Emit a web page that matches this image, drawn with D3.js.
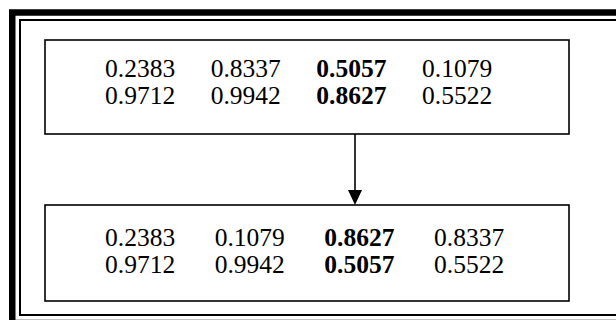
<!DOCTYPE html>
<html>
<head>
<meta charset="utf-8">
<script src="https://cdn.jsdelivr.net/npm/d3@7"></script>
<style>
html,body{margin:0;padding:0;background:#fff;}
svg{display:block;}
</style>
</head>
<body>
<svg id="chart" width="616" height="320"></svg>
<script>
// Data
const beforeRow1 = ["0.2383", "0.8337", "0.5057", "0.1079"];
const beforeRow2 = ["0.9712", "0.9942", "0.8627", "0.5522"];
const afterRow1  = ["0.2383", "0.1079", "0.8627", "0.8337"];
const afterRow2  = ["0.9712", "0.9942", "0.5057", "0.5522"];
const boldColumn = [false, false, true, false];

const svg = d3.select("#chart");

// outer double frame (cropped at right & bottom like the reference)
svg.append("rect").attr("x", 12.25).attr("y", 12.5).attr("width", 640).attr("height", 310.5)
  .attr("fill", "none").attr("stroke", "#000").attr("stroke-width", 6.5);
svg.append("rect").attr("x", 20).attr("y", 20).attr("width", 640).attr("height", 295)
  .attr("fill", "none").attr("stroke", "#000").attr("stroke-width", 2);

const font = "'Liberation Serif', 'Times New Roman', serif";

function drawBox(y0, y1, rows, colRange, rowRange) {
  svg.append("rect").attr("x", 45).attr("y", y0).attr("width", 524).attr("height", y1 - y0)
    .attr("fill", "none").attr("stroke", "#000").attr("stroke-width", 1.6);
  const x = d3.scalePoint().domain(d3.range(4)).range(colRange);
  const y = d3.scalePoint().domain(d3.range(rows.length)).range(rowRange);
  rows.forEach((row, ri) => {
    svg.append("g").selectAll("text").data(row).join("text")
      .attr("x", (d, i) => x(i))
      .attr("y", y(ri))
      .attr("font-family", font)
      .attr("font-size", 25.5)
      .attr("font-weight", (d, i) => boldColumn[i] ? "bold" : "normal")
      .attr("fill", "#000")
      .text(d => d);
  });
}

drawBox(40, 134, [beforeRow1, beforeRow2], [105, 422], [77, 104]);
drawBox(205, 301, [afterRow1, afterRow2], [105, 434], [246, 273]);

// arrow
svg.append("line").attr("x1", 355).attr("y1", 134).attr("x2", 355).attr("y2", 192)
  .attr("stroke", "#000").attr("stroke-width", 1.6);
svg.append("path").attr("d", d3.line()([[348, 190], [362, 190], [355, 205]]) + "Z")
  .attr("fill", "#000");
</script>
</body>
</html>
